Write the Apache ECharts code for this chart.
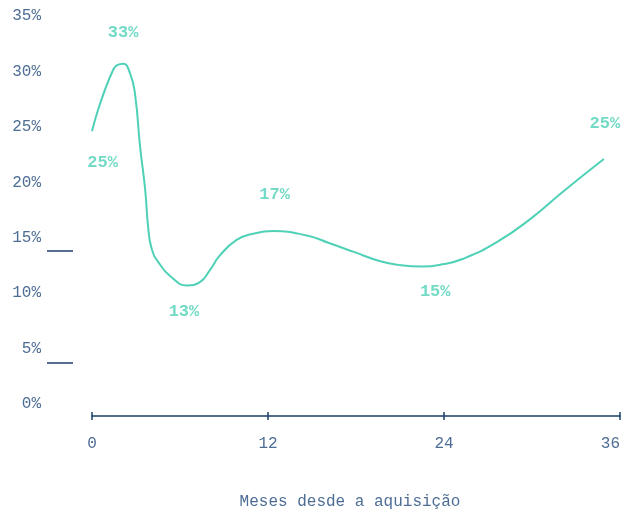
<!DOCTYPE html>
<html>
<head>
<meta charset="utf-8">
<script src="https://cdn.jsdelivr.net/npm/echarts@6/dist/echarts.min.js"></script>
<style>html,body{margin:0;padding:0;background:#fff;}#c{width:631px;height:515px;}</style>
</head>
<body>
<div id="c"></div>
<script>
// Curve data (months since acquisition, rate %)
var months = [0, 1.46, 2.13, 2.6, 2.93, 3.28, 3.62, 3.84, 4.07, 4.52, 5.54, 6.45, 7.36, 8.05, 8.72, 9.86, 10.95, 12.35, 14.65, 16.2, 17.9, 19.6, 20.9, 22.5, 23.9, 25.3, 27.6, 29.9, 32.15, 34.9];
var values = [24.6, 30.2, 30.7, 29.8, 28.0, 23.2, 19.4, 15.8, 14.0, 12.8, 11.3, 10.7, 11.0, 12.1, 13.4, 14.8, 15.35, 15.6, 15.2, 14.5, 13.7, 12.9, 12.55, 12.4, 12.6, 13.1, 14.6, 16.7, 19.2, 22.1];
// Annotation labels
var annMonths = [0.72, 2.12, 6.27, 12.45, 23.4, 34.97];
var annPos = [21.8, 33.5, 8.3, 18.9, 10.1, 25.3];
var annText = ['25%', '33%', '13%', '17%', '15%', '25%'];
// Axis ticks
var xTicks = [0, 12, 24, 36];
var yTicks = [0, 5, 10, 15, 20, 25, 30, 35];
var xName = 'Meses desde a aquisição';

var FONT = '"Liberation Mono", "DejaVu Sans Mono", monospace';
var TEAL = '#4fd1b7';
var NAVY = '#1d3f6b';
var LABEL = '#4d6d95';

var chart = echarts.init(document.getElementById('c'), null, {renderer: 'canvas'});
var lineData = months.map(function (m, i) { return [m, values[i]]; });
var annData = annMonths.map(function (m, i) { return {value: [m, annPos[i]], name: annText[i]}; });

chart.setOption({
  animation: false,
  backgroundColor: '#ffffff',
  grid: {left: 92, right: 11, top: 16, bottom: 108, containLabel: false},
  xAxis: [{
    type: 'value', min: xTicks[0], max: xTicks[xTicks.length - 1], interval: 12, offset: 12,
    axisLine: {show: true, onZero: false, lineStyle: {color: NAVY, width: 1.5}},
    axisTick: {show: true, length: 4, inside: false, lineStyle: {color: NAVY, width: 1.5}},
    axisLabel: {margin: 20, color: LABEL, fontFamily: FONT, fontSize: 16, alignMaxLabel: 'right'},
    splitLine: {show: false},
    name: xName, nameLocation: 'middle', nameGap: 78,
    nameTextStyle: {color: LABEL, fontFamily: FONT, fontSize: 16, padding: [0, 12, 0, 0]}
  }, {
    type: 'value', min: xTicks[0], max: xTicks[xTicks.length - 1], interval: 12, offset: 12, position: 'bottom',
    axisLine: {show: false, onZero: false}, axisLabel: {show: false}, splitLine: {show: false},
    axisTick: {show: true, length: 4, inside: true, lineStyle: {color: NAVY, width: 1.5}}
  }],
  yAxis: {
    type: 'value', min: yTicks[0], max: yTicks[yTicks.length - 1], interval: 5,
    axisLine: {show: false}, axisTick: {show: false}, splitLine: {show: false},
    axisLabel: {formatter: '{value}%', margin: 51, color: LABEL, fontFamily: FONT, fontSize: 16}
  },
  graphic: [
    {type: 'line', shape: {x1: 47, y1: 251, x2: 73, y2: 251}, style: {stroke: NAVY, lineWidth: 1.5}},
    {type: 'line', shape: {x1: 47, y1: 363, x2: 73, y2: 363}, style: {stroke: NAVY, lineWidth: 1.5}}
  ],
  series: [{
    type: 'line', data: lineData, smooth: 0.5, symbol: 'none',
    lineStyle: {color: TEAL, width: 2}
  }, {
    type: 'scatter', data: annData, symbolSize: 1, itemStyle: {color: 'rgba(0,0,0,0)'},
    label: {show: true, position: 'inside', formatter: '{b}', color: TEAL, fontFamily: FONT, fontSize: 17, fontWeight: 'bold'}
  }]
});
</script>
</body>
</html>
